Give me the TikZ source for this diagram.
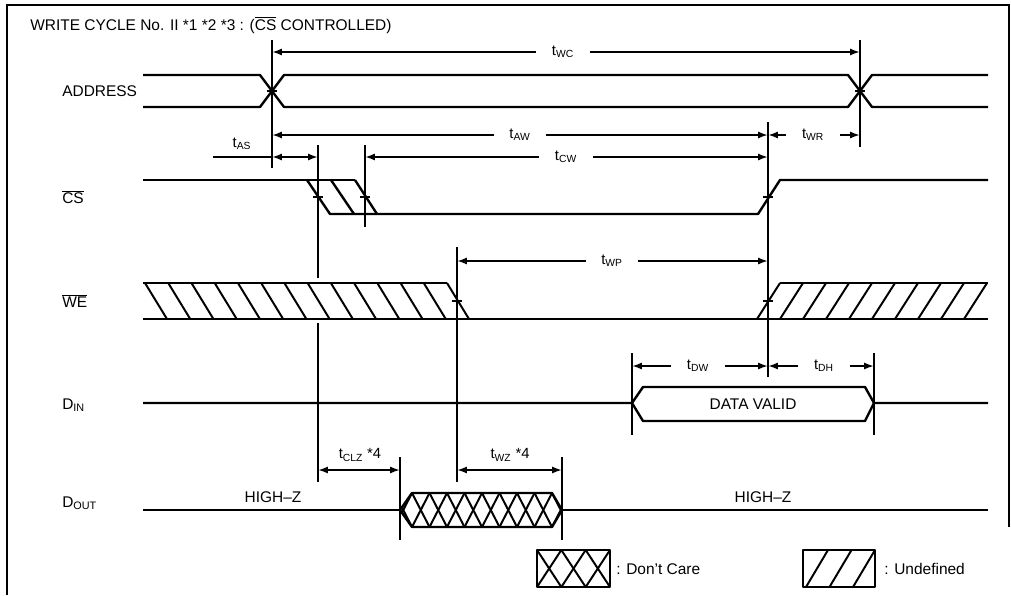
\documentclass[tikz,border=0pt]{standalone}
\usepackage{fontspec}
\setmainfont{Liberation Sans}
\usetikzlibrary{arrows.meta}

\tikzset{
    wave/.style = {line width = 1.7pt, line join = round},
    guide/.style = {line width = 1.4pt},
    hatch/.style = {line width = 1.4pt},
    dim/.style = {line width = 1.3pt, -{Latex[length = 7pt, width = 5pt]}},
    dimboth/.style = {line width = 1.3pt, {Latex[length = 7pt, width = 5pt]}-{Latex[length = 7pt, width = 5pt]}},
    tname/.style = {font = \fontsize{10.5}{12}\selectfont, inner sep = 0pt, inner xsep = 11pt},
    sig/.style = {font = \fontsize{11}{13}\selectfont, anchor = west, inner sep = 0pt},
}

\begin{document}
\begin{tikzpicture}[x = 0.025cm, y = -0.025cm]
    \useasboundingbox (0, 0) rectangle (1011, 595);
    \draw [line width = 1.5pt] (7, 595) -- (7, 5) -- (1009, 5) -- (1009, 527);
    \node [sig] (title) at (30, 25) {WRITE CYCLE No. II *1 *2 *3 : ($\overline{\hbox{CS}}$ CONTROLLED)};

    % ADDRESS
    \node [sig] (address) at (62, 91) {ADDRESS};
    \draw [wave] (143, 75) -- (260, 75) -- (284, 107) -- (848, 107) -- (872, 75) -- (988, 75);
    \draw [wave] (143, 107) -- (260, 107) -- (284, 75) -- (848, 75) -- (872, 107) -- (988, 107);

    % CS
    \node [sig] (cs) at (62, 197) {$\overline{\hbox{CS}}$};
    \draw [wave] (143, 180) -- (355, 180);
    \draw [wave] (307, 180) -- (330, 214) -- (758, 214) -- (780, 180) -- (988, 180);
    \draw [wave] (331, 180) -- (354, 214);
    \draw [wave] (355, 180) -- (377, 214);

    % WE
    \node [sig] (we) at (62, 301) {$\overline{\hbox{WE}}$};
    \draw [wave] (143, 283) -- (447, 283);
    \foreach \k in {0, ..., 13}
        \draw [hatch] ({145 + 23.23 * \k}, 283) -- ({167 + 23.23 * \k}, 319);
    \draw [wave] (143, 319) -- (988, 319);
    \draw [wave] (780, 283) -- (988, 283);
    \foreach \k in {0, ..., 9}
        \draw [hatch] ({757 + 23 * \k}, 319) -- ({780 + 23 * \k}, 283);

    % DIN
    \node [sig] (din) at (62, 405) {D\textsubscript{IN}};
    \draw [wave] (143, 403) -- (632, 403) -- (643, 387) -- (865, 387) -- (874, 403) -- (988, 403);
    \draw [wave] (632, 403) -- (643, 421) -- (865, 421) -- (874, 403);
    \node [sig, anchor = center] (valid) at (753, 404) {DATA VALID};

    % DOUT
    \node [sig] (dout) at (62, 503) {D\textsubscript{OUT}};
    \draw [wave] (143, 510) -- (400, 510);
    \draw [wave] (562, 510) -- (988, 510);
    \begin{scope}
        \clip (400, 510) -- (412, 493) -- (552, 493) -- (562, 510) -- (552, 527) -- (412, 527) -- cycle;
        \foreach \k in {-1, ..., 8} {
            \draw [hatch] ({412 + 17.5 * \k}, 493) -- ({429.5 + 17.5 * \k}, 527);
            \draw [hatch] ({412 + 17.5 * \k}, 527) -- ({429.5 + 17.5 * \k}, 493);
        }
    \end{scope}
    \draw [wave] (400, 510) -- (412, 493) -- (552, 493) -- (562, 510) -- (552, 527) -- (412, 527) -- cycle;
    \node [sig, anchor = center] (hzL) at (273, 497) {HIGH--Z};
    \node [sig, anchor = center] (hzR) at (763, 497) {HIGH--Z};

    % guide lines and crossing ticks
    \draw [guide] (272, 40) -- (272, 168);
    \draw [guide] (860, 40) -- (860, 147);
    \draw [guide] (318, 145) -- (318, 278);
    \draw [guide] (318, 323) -- (318, 482);
    \draw [guide] (365, 145) -- (365, 227);
    \draw [guide] (768, 122) -- (768, 377);
    \draw [guide] (457, 247) -- (457, 482);
    \draw [guide] (632, 353) -- (632, 435);
    \draw [guide] (874, 353) -- (874, 435);
    \draw [guide] (400, 457) -- (400, 540);
    \draw [guide] (562, 457) -- (562, 540);
    \foreach \x/\y in {272/91, 860/91, 318/197, 365/197, 768/197, 457/301, 768/301}
        \draw [guide] (\x - 5, \y) -- (\x + 5, \y);

    % timing values
    \coordinate (wcL) at (272, 52);
    \coordinate (wcR) at (860, 52);
    \node [tname] (twc) at (563, 52) {t\textsubscript{WC}};
    \draw [dim] (twc) -- (wcL);
    \draw [dim] (twc) -- (wcR);

    \coordinate (awL) at (272, 135);
    \coordinate (awR) at (768, 135);
    \node [tname] (taw) at (520, 135) {t\textsubscript{AW}};
    \draw [dim] (taw) -- (awL);
    \draw [dim] (taw) -- (awR);

    \coordinate (wrL) at (768, 135);
    \coordinate (wrR) at (860, 135);
    \node [tname] (twr) at (813, 135) {t\textsubscript{WR}};
    \draw [dim] (twr) -- (wrL);
    \draw [dim] (twr) -- (wrR);

    \coordinate (asS) at (213, 157);
    \coordinate (asL) at (272, 157);
    \coordinate (asR) at (318, 157);
    \node [tname, inner xsep = 0pt] (tas) at (242, 144) {t\textsubscript{AS}};
    \draw [guide] (asS) -- (asL);
    \draw [dimboth] (asL) -- (asR);

    \coordinate (cwL) at (365, 157);
    \coordinate (cwR) at (768, 157);
    \node [tname] (tcw) at (566, 157) {t\textsubscript{CW}};
    \draw [dim] (tcw) -- (cwL);
    \draw [dim] (tcw) -- (cwR);

    \coordinate (wpL) at (457, 261);
    \coordinate (wpR) at (768, 261);
    \node [tname] (twp) at (612, 261) {t\textsubscript{WP}};
    \draw [dim] (twp) -- (wpL);
    \draw [dim] (twp) -- (wpR);

    \coordinate (dwL) at (632, 366);
    \coordinate (dwR) at (768, 366);
    \node [tname] (tdw) at (698, 366) {t\textsubscript{DW}};
    \draw [dim] (tdw) -- (dwL);
    \draw [dim] (tdw) -- (dwR);

    \coordinate (dhL) at (768, 366);
    \coordinate (dhR) at (874, 366);
    \node [tname] (tdh) at (824, 366) {t\textsubscript{DH}};
    \draw [dim] (tdh) -- (dhL);
    \draw [dim] (tdh) -- (dhR);

    \coordinate (clzL) at (318, 470);
    \coordinate (clzR) at (400, 470);
    \node [tname, inner xsep = 0pt] (tclz) at (360, 455) {t\textsubscript{CLZ} *4};
    \draw [dimboth] (clzL) -- (clzR);

    \coordinate (wzL) at (457, 470);
    \coordinate (wzR) at (562, 470);
    \node [tname, inner xsep = 0pt] (twz) at (510, 455) {t\textsubscript{WZ} *4};
    \draw [dimboth] (wzL) -- (wzR);

    % legend
    \draw [wave] (537, 550) rectangle (610, 587);
    \foreach \k in {0, 1, 2} {
        \draw [hatch] ({537 + 24.33 * \k}, 550) -- ({561.33 + 24.33 * \k}, 587);
        \draw [hatch] ({537 + 24.33 * \k}, 587) -- ({561.33 + 24.33 * \k}, 550);
    }
    \node [sig] (dontcare) at (616, 569) {: Don't Care};
    \draw [wave] (803, 550) rectangle (875, 587);
    \foreach \k in {0, 1, 2}
        \draw [hatch] ({806 + 23.5 * \k}, 587) -- ({828 + 23.5 * \k}, 550);
    \node [sig] (undef) at (884, 569) {: Undefined};
\end{tikzpicture}
\end{document}
